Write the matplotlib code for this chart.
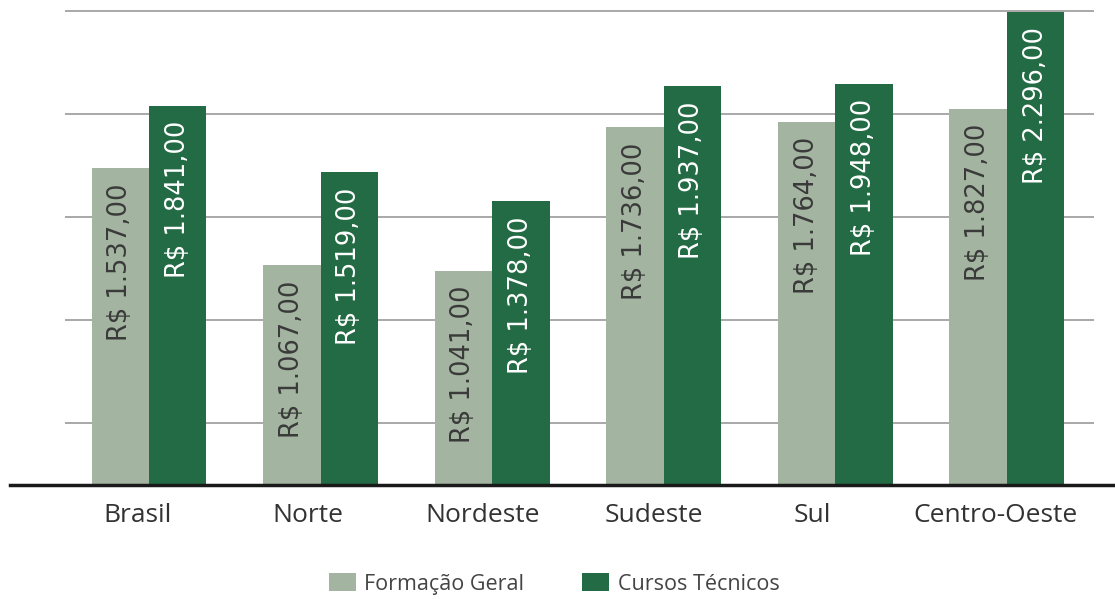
import matplotlib.pyplot as plt
import matplotlib.transforms as mtransforms
import numpy as np

regioes = ["Brasil", "Norte", "Nordeste", "Sudeste", "Sul", "Centro-Oeste"]
formacao_geral = [1537, 1067, 1041, 1736, 1764, 1827]
cursos_tecnicos = [1841, 1519, 1378, 1937, 1948, 2296]
grade = [300, 800, 1300, 1800, 2300]

COR_GERAL = "#a3b5a0"
COR_TECNICO = "#236b45"

plt.rcParams['font.family'] = ['Open Sans', 'DejaVu Sans']


def brl(v):
    # formato R$ 1.234,00
    s = "{:,.2f}".format(v)
    s = s.replace(",", "X").replace(".", ",").replace("X", ".")
    return "R$ " + s


fig = plt.figure(figsize=(11.15, 5.99), dpi=100)
ax = fig.add_axes([10 / 1115, 1 - 485 / 599, 1105 / 1115, 485 / 599])

x = np.arange(len(regioes))
w = 0.335

ax.hlines(grade, -0.49, 5.51, colors="#a8a8a8", linewidth=1.4, zorder=0)

b1 = ax.bar(x - w / 2, formacao_geral, w, color=COR_GERAL, zorder=2,
            label="Formação Geral")
b2 = ax.bar(x + w / 2, cursos_tecnicos, w, color=COR_TECNICO, zorder=2,
            label="Cursos Técnicos")

rot_kw = dict(xytext=(0, -11), textcoords="offset points", rotation=90,
              ha="center", va="top", fontsize=18.5, family=["DejaVu Sans"],
              zorder=3)
for xi, v in zip(x - w / 2, formacao_geral):
    ax.annotate(brl(v), (xi, v), color="#3a3a3a", **rot_kw)
for xi, v in zip(x + w / 2, cursos_tecnicos):
    ax.annotate(brl(v), (xi, v), color="white", **rot_kw)

ax.set_xlim(-0.81, 5.63)
ax.set_ylim(0, 485 / 0.206)
ax.set_xticks(x)
ax.set_xticklabels(regioes, fontsize=19, color="#333333")
ax.tick_params(axis="x", length=0, pad=13)
ax.set_yticks([])

# rótulos das regiões levemente deslocados para a esquerda
desloc = [-11, -13, -10, -10, -23, -11]
for lbl, dx in zip(ax.get_xticklabels(), desloc):
    lbl.set_transform(lbl.get_transform() +
                      mtransforms.ScaledTranslation(dx / 100, 0, fig.dpi_scale_trans))

for lado in ["top", "right", "left"]:
    ax.spines[lado].set_visible(False)
ax.spines["bottom"].set_linewidth(2.5)
ax.spines["bottom"].set_color("#1a1a1a")

fig.legend(handles=[b1, b2], loc="center", bbox_to_anchor=(0.497, 1 - 584 / 599),
           ncol=2, frameon=False, fontsize=15.5, handlelength=1.25,
           handleheight=0.9, columnspacing=2.7, handletextpad=0.4,
           labelcolor="#444444")

fig.savefig("out.png", dpi=100)
